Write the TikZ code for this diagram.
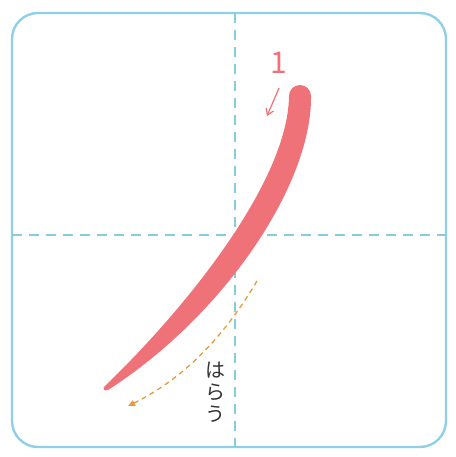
\documentclass[tikz,border=0pt]{standalone}
\usepackage{fontspec}
\newfontfamily\jpfont{Noto Sans CJK JP}
\usepackage{tikz}
\usetikzlibrary{arrows.meta, calc, positioning}
\definecolor{rahmen}{HTML}{8FD0E8}
\definecolor{hilfs}{HTML}{86CCDC}
\definecolor{strich}{HTML}{F07279}
\definecolor{richtung}{HTML}{E89A3C}
\definecolor{schrift}{HTML}{333333}

\begin{document}
\begin{tikzpicture}[
        x=1pt, y=-1pt,
        every node/.style={font=\jpfont},
        hilfslinie/.style={hilfs, line width=1.3pt, dash pattern=on 10pt off 7pt},
      ]
      \useasboundingbox (0,0) rectangle (455,457);

      % Rahmen
      \draw[rahmen, line width=2.4pt, rounded corners=26pt]
        (12,13) rectangle (446,447);

      % Hilfslinien
      \coordinate (vo) at (235,13);
      \coordinate (vu) at (235,447);
      \coordinate (hl) at (12,235);
      \coordinate (hr) at (446,235);
      \draw[hilfslinie] (vo) -- (vu);
      \draw[hilfslinie] (hl) -- (hr);

      % Strich (Pinselform)
      \fill[strich]
        (311,96) .. controls (312,186) and (222,317) .. (108,390)
        .. controls (104,392) and (102,388) .. (105,386)
        .. controls (190,304) and (288,180) .. (289,96)
        arc[start angle=180, end angle=0, radius=11pt];

      % Nummer und Startpfeil
      \node[strich, font=\jpfont\fontsize{30}{30}\selectfont] (nr) at (279,63) {1};
      \coordinate (pa) at (279,88);
      \coordinate (pe) at (267,116);
      \draw[strich, line width=1.2pt, -{Straight Barb[length=6pt,width=8pt]}]
        (pa) -- (pe);

      % Richtung: harai
      \coordinate (ra) at (257,281);
      \coordinate (re) at (128,406);
      \draw[richtung, line width=1.3pt, dash pattern=on 5pt off 4pt,
            -{Triangle[length=7pt,width=6pt]}]
        (ra) .. controls (225,335) and (185,378) .. (re);

      \node[schrift, align=center, font=\jpfont\fontsize{20}{22}\selectfont]
        (harai) at (215,392) {は\\ら\\う};
    \end{tikzpicture}
\end{document}
